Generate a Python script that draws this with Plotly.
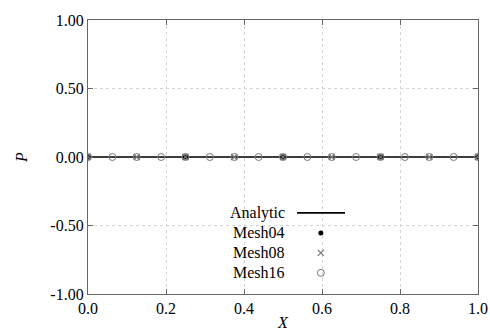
import numpy as np
import plotly.graph_objects as go

# ---- data ----
analytic_x = [0.0, 1.0]
analytic_p = [0.0, 0.0]
mesh04_x = [0.0, 0.25, 0.5, 0.75, 1.0]
mesh04_p = [0.0, 0.0, 0.0, 0.0, 0.0]
mesh08_x = [0.0, 0.125, 0.25, 0.375, 0.5, 0.625, 0.75, 0.875, 1.0]
mesh08_p = [0.0] * 9
mesh16_x = [0.0, 0.0625, 0.125, 0.1875, 0.25, 0.3125, 0.375, 0.4375, 0.5,
            0.5625, 0.625, 0.6875, 0.75, 0.8125, 0.875, 0.9375, 1.0]
mesh16_p = [0.0] * 17
series_names = ["Analytic", "Mesh04", "Mesh08", "Mesh16"]
x_tickvals = [0.0, 0.2, 0.4, 0.6, 0.8, 1.0]
x_ticktext = ["0.0", "0.2", "0.4", "0.6", "0.8", "1.0"]
y_tickvals = [-1.0, -0.5, 0.0, 0.5, 1.0]
y_ticktext = ["-1.00", "-0.50", "0.00", "0.50", "1.00"]

FONT = "Liberation Serif"
FS = 16
AXC = "#666666"
GRAY = "#777777"

fig = go.Figure()
fig.add_trace(go.Scatter(x=analytic_x, y=analytic_p, mode="lines",
                         line=dict(color="black", width=1.6), name=series_names[0]))
fig.add_trace(go.Scatter(x=mesh04_x, y=mesh04_p, mode="markers",
                         marker=dict(symbol="square", size=5, color="black"), name=series_names[1]))
fig.add_trace(go.Scatter(x=mesh08_x, y=mesh08_p, mode="markers",
                         marker=dict(symbol="x-thin", size=6, line=dict(color=GRAY, width=1.2)),
                         name=series_names[2]))
fig.add_trace(go.Scatter(x=mesh16_x, y=mesh16_p, mode="markers",
                         marker=dict(symbol="circle-open", size=7, color=GRAY, line=dict(width=1)),
                         name=series_names[3]))

# ---- manual legend (text right, key on the right) ----
leg_text_x = 0.51
leg_key_x = 0.597
leg_line_x = [0.536, 0.659]
leg_rows = [0.296, 0.223, 0.150, 0.077]
for name, yy in zip(series_names, leg_rows):
    fig.add_annotation(x=leg_text_x, y=yy, xref="paper", yref="paper", text=name,
                       showarrow=False, xanchor="right", yanchor="middle",
                       font=dict(family=FONT, size=FS, color="black"))
fig.add_shape(type="line", xref="paper", yref="paper", x0=leg_line_x[0], x1=leg_line_x[1],
              y0=leg_rows[0], y1=leg_rows[0], line=dict(color="black", width=1.6))
fig.add_trace(go.Scatter(x=[leg_key_x], y=[leg_rows[1]], xaxis="x2", yaxis="y2", mode="markers",
                         marker=dict(symbol="circle", size=5, color="black"), hoverinfo="skip"))
fig.add_trace(go.Scatter(x=[leg_key_x], y=[leg_rows[2]], xaxis="x2", yaxis="y2", mode="markers",
                         marker=dict(symbol="x-thin", size=6, line=dict(color=GRAY, width=1.2)),
                         hoverinfo="skip"))
fig.add_trace(go.Scatter(x=[leg_key_x], y=[leg_rows[3]], xaxis="x2", yaxis="y2", mode="markers",
                         marker=dict(symbol="circle-open", size=7, color=GRAY, line=dict(width=1)),
                         hoverinfo="skip"))

axis_common = dict(showline=True, linecolor=AXC, linewidth=1.2, mirror="ticks",
                   ticks="inside", ticklen=5, tickcolor=AXC, tickwidth=1.2,
                   showgrid=True, gridcolor="#d4d4d4", griddash="dot", gridwidth=1,
                   zeroline=False, automargin=False,
                   tickfont=dict(family=FONT, size=FS, color="black"))

fig.update_layout(
    width=490, height=331,
    margin=dict(l=88, r=12, t=20, b=37),
    paper_bgcolor="white", plot_bgcolor="white",
    showlegend=False,
    font=dict(family=FONT, size=FS, color="black"),
    xaxis=dict(range=[0, 1], tickvals=x_tickvals, ticktext=x_ticktext,
               title=dict(text="<i>X</i>", font=dict(family=FONT, size=FS, color="black"), standoff=0),
               **axis_common),
    yaxis=dict(range=[-1, 1], tickvals=y_tickvals, ticktext=y_ticktext,
               title=dict(text="<i>P</i>", font=dict(family=FONT, size=FS, color="black"), standoff=18),
               **axis_common),
    xaxis2=dict(overlaying="x", range=[0, 1], visible=False),
    yaxis2=dict(overlaying="y", range=[0, 1], visible=False),
)

fig.write_html("out.html", config={"displayModeBar": False},
               post_script="document.body.style.margin='0';document.body.style.overflow='hidden';")
